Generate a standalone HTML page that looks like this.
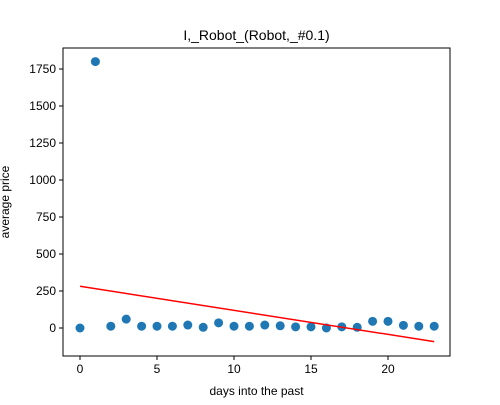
<!DOCTYPE html>
<html><head><meta charset="utf-8"><style>body{margin:0;background:#fff}svg{font-family:"Liberation Sans","DejaVu Sans",sans-serif}</style></head>
<body>
<svg id="c" width="500" height="400"></svg>
<script>
const days=[0,1,2,3,4,5,6,7,8,9,10,11,12,13,14,15,16,17,18,19,20,21,22,23];
const prices=[0,1800,12,60,12,12,12,20,5,35,12,12,20,15,8,8,0,8,5,45,45,18,12,12];
const fitStart=282, fitEnd=-92;
const xTicks=[0,5,10,15,20];
const yTicks=[0,250,500,750,1000,1250,1500,1750];
const L=63,R=450,T=48,B=356;
const x=v=>80+v*15.4, y=v=>328-v*0.148;
const s=document.getElementById('c'),ns='http://www.w3.org/2000/svg';
function el(t,a,p){const e=document.createElementNS(ns,t);for(const k in a)e.setAttribute(k,a[k]);(p||s).appendChild(e);return e;}
let e=el('rect',{x:L,y:T,width:R-L,height:B-T,fill:'none',stroke:'#000','stroke-width':1});

xTicks.forEach(t=>{el('line',{x1:x(t),x2:x(t),y1:B,y2:B+4,stroke:'#000'});
const tx=el('text',{x:x(t),y:B+17,'font-size':12,'text-anchor':'middle'});tx.textContent=t;
});
yTicks.forEach(t=>{el('line',{x1:L-4,x2:L,y1:y(t),y2:y(t),stroke:'#000'});
const tx=el('text',{x:L-7,y:y(t)+4,'font-size':12,'text-anchor':'end'});tx.textContent=t;
});
days.forEach((d,i)=>{const c=el('circle',{cx:x(d),cy:y(prices[i]),r:4.5,fill:'#1f77b4'});
});
e=el('line',{x1:x(days[0]),y1:y(fitStart),x2:x(days[days.length-1]),y2:y(fitEnd),stroke:'red','stroke-width':1.5});

e=el('text',{x:(L+R)/2,y:40,'font-size':14,'text-anchor':'middle'});e.textContent='I,_Robot_(Robot,_#0.1)';

e=el('text',{x:(L+R)/2,y:395,'font-size':12,'text-anchor':'middle'});e.textContent='days into the past';

e=el('text',{x:0,y:0,'font-size':12,'text-anchor':'middle',transform:'translate(9,'+((T+B)/2)+') rotate(-90)'});e.textContent='average price';

</script>
</body></html>
